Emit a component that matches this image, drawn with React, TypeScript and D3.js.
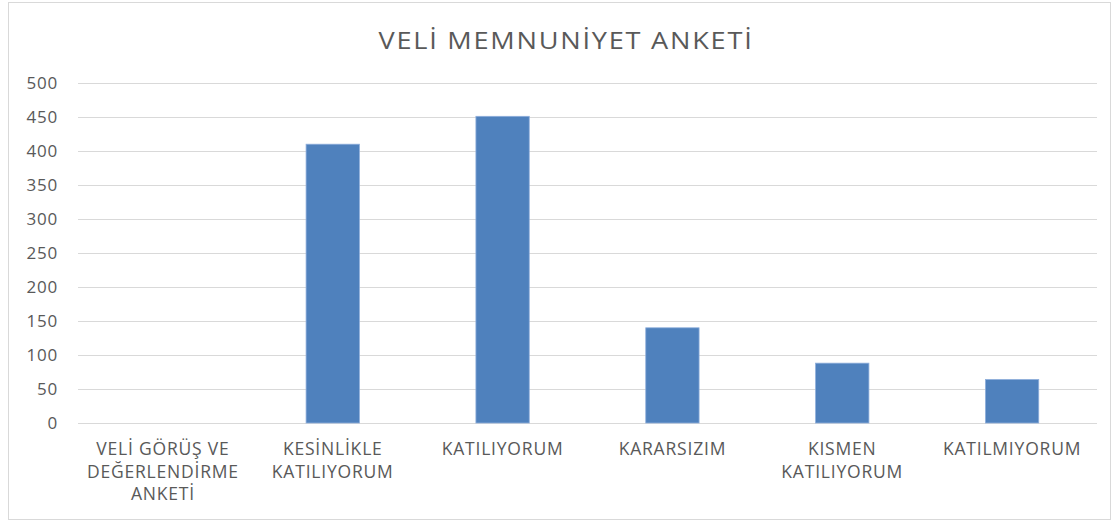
import { useEffect, useRef } from 'react'
import * as d3 from 'd3'

const W = 1111
const H = 521
const MARGIN = { top: 83, right: 14, bottom: 98, left: 78 }

const TITLE = 'VELİ MEMNUNİYET ANKETİ'
const categories = [
  'VELİ GÖRÜŞ VE DEĞERLENDİRME ANKETİ',
  'KESİNLİKLE KATILIYORUM',
  'KATILIYORUM',
  'KARARSIZIM',
  'KISMEN KATILIYORUM',
  'KATILMIYORUM',
]
const values = [0, 410, 451, 140, 88, 64]
const yTicks = [0, 50, 100, 150, 200, 250, 300, 350, 400, 450, 500]

const FONT = "'Open Sans', sans-serif"
const TEXT = '#595959'
const GRID = '#d9d9d9'
const BAR = '#4f81bd'

export default function App() {
  const svgRef = useRef<SVGSVGElement>(null)

  useEffect(() => {
    if (!svgRef.current) return
    const svg = d3.select(svgRef.current)
    svg.selectAll('*').remove()

    const innerW = W - MARGIN.left - MARGIN.right
    const innerH = H - MARGIN.top - MARGIN.bottom

    const x = d3.scaleBand<string>()
      .domain(categories)
      .range([0, innerW])
      .paddingInner(0.686)
      .paddingOuter(0.343)

    const y = d3.scaleLinear().domain([0, 500]).range([innerH, 0])

    // chart border
    svg.append('rect')
      .attr('x', 8.5).attr('y', 2.5)
      .attr('width', W - 9).attr('height', H - 4)
      .attr('fill', '#fff')
      .attr('stroke', GRID)

    // title, a bit wider than the font draws it
    svg.append('text')
      .attr('transform', 'translate(566,49) scale(1.18,1)')
      .attr('text-anchor', 'middle')
      .attr('fill', TEXT)
      .attr('font-family', FONT)
      .attr('font-size', 23)
      .attr('letter-spacing', 1.5)
      .text(TITLE)

    const g = svg.append('g').attr('transform', `translate(${MARGIN.left},${MARGIN.top})`)

    // grid lines
    g.append('g')
      .selectAll('line')
      .data(yTicks)
      .enter()
      .append('line')
      .attr('x1', 0)
      .attr('x2', innerW)
      .attr('y1', d => Math.round(y(d)) + 0.5)
      .attr('y2', d => Math.round(y(d)) + 0.5)
      .attr('stroke', GRID)
      .attr('stroke-width', 1)

    // y labels
    g.append('g')
      .selectAll('text')
      .data(yTicks)
      .enter()
      .append('text')
      .attr('x', -20)
      .attr('y', d => y(d))
      .attr('dy', '0.35em')
      .attr('text-anchor', 'end')
      .attr('fill', TEXT)
      .attr('font-family', FONT)
      .attr('font-size', 17)
      .attr('letter-spacing', 0.8)
      .text(d => d)

    // bars
    g.append('g')
      .selectAll('rect')
      .data(values)
      .enter()
      .append('rect')
      .attr('x', (d, i) => x(categories[i]) as number)
      .attr('y', d => y(d))
      .attr('width', x.bandwidth())
      .attr('height', d => innerH - y(d))
      .attr('fill', BAR)
      .attr('stroke', d => (d > 0 ? '#8eaedb' : 'none'))
      .attr('stroke-width', 0.8)

    // category labels, wrapped
    const maxW = 165
    const labels = g.append('g')
    categories.forEach(cat => {
      const cx = (x(cat) as number) + x.bandwidth() / 2
      const t = labels.append('text')
        .attr('text-anchor', 'middle')
        .attr('fill', TEXT)
        .attr('font-family', FONT)
        .attr('font-size', 17.5)
        .attr('letter-spacing', 0.8)
      const words = cat.split(' ')
      let line: string[] = []
      let lineNo = 0
      let ts = t.append('tspan').attr('x', cx).attr('y', innerH + 32)
      words.forEach(w => {
        line.push(w)
        ts.text(line.join(' '))
        if ((ts.node() as SVGTSpanElement).getComputedTextLength() > maxW && line.length > 1) {
          line.pop()
          ts.text(line.join(' '))
          line = [w]
          lineNo++
          ts = t.append('tspan').attr('x', cx).attr('y', innerH + 32 + lineNo * 22.5).text(w)
        }
      })
    })
  }, [])

  return (
    <svg
      ref={svgRef}
      width={W}
      height={H}
      style={{ position: 'absolute', left: 0, top: 0, background: '#fff' }}
    />
  )
}
